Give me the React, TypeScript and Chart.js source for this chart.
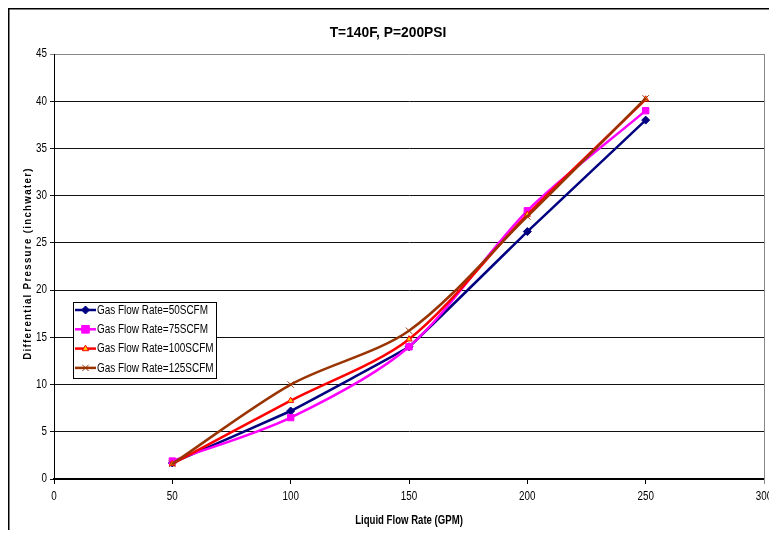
import React, { useEffect, useRef } from "react";
import { Chart, registerables } from "chart.js";

Chart.register(...registerables);

// Liquid flow rate (GPM)
const flowRates = [50, 100, 150, 200, 250];

// Differential pressure (inch water) per gas flow rate
const dp50 = [1.7, 7.2, 14.0, 26.2, 38.0];
const dp75 = [1.9, 6.5, 14.0, 28.4, 39.0];
const dp100 = [1.6, 8.3, 14.8, 28.0, 40.2];
const dp125 = [1.6, 10.0, 15.7, 27.8, 40.3];

const seriesLabels = [
  "Gas Flow Rate=50SCFM",
  "Gas Flow Rate=75SCFM",
  "Gas Flow Rate=100SCFM",
  "Gas Flow Rate=125SCFM",
];

const titleText = "T=140F, P=200PSI";
const xTitle = "Liquid Flow Rate (GPM)";
const yTitle = "Differential Pressure (inchwater)";

const FONT = "'Liberation Sans', Arial, sans-serif";

type Style = {
  color: string;
  point: string;
  fill: string;
  radius: number;
};

const styles: Style[] = [
  { color: "#000080", point: "rectRot", fill: "#000080", radius: 4 },
  { color: "#ff00ff", point: "rect", fill: "#ff00ff", radius: 4.5 },
  { color: "#ff0000", point: "triangle", fill: "#ffcc00", radius: 3.5 },
  { color: "#993300", point: "crossRot", fill: "#993300", radius: 4.5 },
];

const seriesValues = [dp50, dp75, dp100, dp125];

// text drawn with a horizontal squeeze to get a narrow face
function narrowText(
  ctx: CanvasRenderingContext2D,
  text: string,
  x: number,
  y: number,
  font: string,
  squeeze: number,
  align: CanvasTextAlign
) {
  ctx.save();
  ctx.translate(x, y);
  ctx.scale(squeeze, 1);
  ctx.font = font;
  ctx.textAlign = align;
  ctx.textBaseline = "middle";
  ctx.fillStyle = "#000";
  ctx.fillText(text, 0, 0);
  ctx.restore();
}

// small legend marker matching the dataset point styles
function marker(ctx: CanvasRenderingContext2D, s: Style, x: number, y: number) {
  const r = s.radius;
  ctx.beginPath();
  if (s.point === "rectRot") {
    ctx.moveTo(x, y - r);
    ctx.lineTo(x + r, y);
    ctx.lineTo(x, y + r);
    ctx.lineTo(x - r, y);
    ctx.closePath();
  } else if (s.point === "rect") {
    const h = r * 0.85;
    ctx.rect(x - h, y - h, h * 2, h * 2);
  } else if (s.point === "triangle") {
    ctx.moveTo(x, y - r);
    ctx.lineTo(x + r * 0.9, y + r * 0.6);
    ctx.lineTo(x - r * 0.9, y + r * 0.6);
    ctx.closePath();
  } else {
    const h = r * 0.7;
    ctx.moveTo(x - h, y - h);
    ctx.lineTo(x + h, y + h);
    ctx.moveTo(x + h, y - h);
    ctx.lineTo(x - h, y + h);
  }
  ctx.fillStyle = s.fill;
  ctx.strokeStyle = s.color;
  ctx.lineWidth = 1;
  if (s.point !== "crossRot") ctx.fill();
  ctx.stroke();
}

const decorations = {
  id: "decorations",
  afterDraw(chart: any) {
    const { ctx, chartArea } = chart;
    const xs = chart.scales.x;
    const ys = chart.scales.y;
    ctx.save();

    // outer frame (left and top edges)
    ctx.strokeStyle = "#000";
    ctx.lineWidth = 1.5;
    ctx.beginPath();
    ctx.moveTo(0.75, chart.height);
    ctx.lineTo(0.75, 0.75);
    ctx.lineTo(chart.width, 0.75);
    ctx.stroke();

    // right edge of plot area, continued down as the last tick mark
    ctx.lineWidth = 1;
    ctx.strokeStyle = "#888";
    ctx.beginPath();
    ctx.moveTo(Math.round(chartArea.right) + 0.5, chartArea.top);
    ctx.lineTo(Math.round(chartArea.right) + 0.5, chartArea.bottom + 5);
    ctx.stroke();

    // tick labels, placed from the scales' own ticks
    const tickFont = `12px ${FONT}`;
    xs.ticks.forEach((t: any, i: number) => {
      narrowText(ctx, t.label, xs.getPixelForTick(i), 489, tickFont, 0.82, "center");
    });
    ys.ticks.forEach((t: any, i: number) => {
      narrowText(ctx, t.label, 39, ys.getPixelForTick(i), tickFont, 0.82, "right");
    });

    // title
    narrowText(ctx, titleText, 380, 25, `bold 15px ${FONT}`, 0.92, "center");

    // x axis title
    narrowText(
      ctx,
      xTitle,
      (chartArea.left + chartArea.right) / 2,
      513,
      `bold 12px ${FONT}`,
      0.8,
      "center"
    );

    // y axis title
    ctx.save();
    ctx.translate(20, (chartArea.top + chartArea.bottom) / 2 - 3);
    ctx.rotate(-Math.PI / 2);
    ctx.scale(0.88, 1);
    ctx.font = `bold 11px ${FONT}`;
    (ctx as any).letterSpacing = "1.5px";
    ctx.textAlign = "center";
    ctx.textBaseline = "middle";
    ctx.fillStyle = "#000";
    ctx.fillText(yTitle, 0, 0);
    ctx.restore();

    // legend
    const bx = 65.5;
    const by = 294.5;
    const bw = 143;
    const bh = 76;
    ctx.fillStyle = "#fff";
    ctx.fillRect(bx, by, bw, bh);
    ctx.strokeStyle = "#000";
    ctx.lineWidth = 1;
    ctx.strokeRect(bx, by, bw, bh);
    seriesLabels.forEach((label, i) => {
      const s = styles[i];
      const y = 302 + i * 19.3;
      ctx.strokeStyle = s.color;
      ctx.lineWidth = 2.5;
      ctx.beginPath();
      ctx.moveTo(67, y);
      ctx.lineTo(88, y);
      ctx.stroke();
      marker(ctx, s, 77.5, y);
      narrowText(ctx, label, 89, y + 0.5, `12px ${FONT}`, 0.83, "left");
    });

    ctx.restore();
  },
};

export default function App() {
  const ref = useRef<HTMLCanvasElement>(null);

  useEffect(() => {
    if (!ref.current) return;
    const chart = new Chart(ref.current, {
      type: "line",
      data: {
        labels: flowRates,
        datasets: seriesLabels.map((label, i) => ({
          label,
          data: flowRates.map((x, j) => ({ x, y: seriesValues[i][j] })),
          borderColor: styles[i].color,
          backgroundColor: styles[i].fill,
          pointBorderColor: styles[i].color,
          pointBackgroundColor: styles[i].fill,
          pointStyle: styles[i].point as any,
          pointRadius: styles[i].radius,
          pointBorderWidth: 1,
          borderWidth: 2.5,
          tension: i === 0 ? 0.05 : 0.3,
          order: 3 - i,
          fill: false,
        })),
      },
      options: {
        animation: false,
        responsive: false,
        devicePixelRatio: 1,
        layout: { padding: { top: 46, right: 13, left: 0, bottom: 0 } },
        plugins: {
          legend: { display: false },
          title: { display: false },
          tooltip: { enabled: false },
        },
        scales: {
          x: {
            type: "linear",
            min: 0,
            max: 300,
            afterFit(scale: any) {
              scale.height = 51;
            },
            ticks: {
              stepSize: 50,
              display: false,
            },
            grid: {
              drawOnChartArea: false,
              drawTicks: true,
              tickLength: 5,
              color: "#000",
            },
            border: { display: true, color: "#000", width: 2 },
          },
          y: {
            min: 0,
            max: 45,
            afterFit(scale: any) {
              scale.width = 46;
            },
            ticks: {
              stepSize: 5,
              display: false,
            },
            grid: {
              drawTicks: true,
              tickLength: 4,
              color: (c: any) => (c.tick && c.tick.value === 45 ? "#888" : "#111"),
              lineWidth: 1,
            },
            border: { display: true, color: "#000", width: 1 },
          },
        },
      },
      plugins: [decorations],
    });
    return () => chart.destroy();
  }, []);

  return (
    <div style={{ width: 769, height: 522 }}>
      <canvas ref={ref} width={769} height={522} style={{ display: "block" }} />
    </div>
  );
}
